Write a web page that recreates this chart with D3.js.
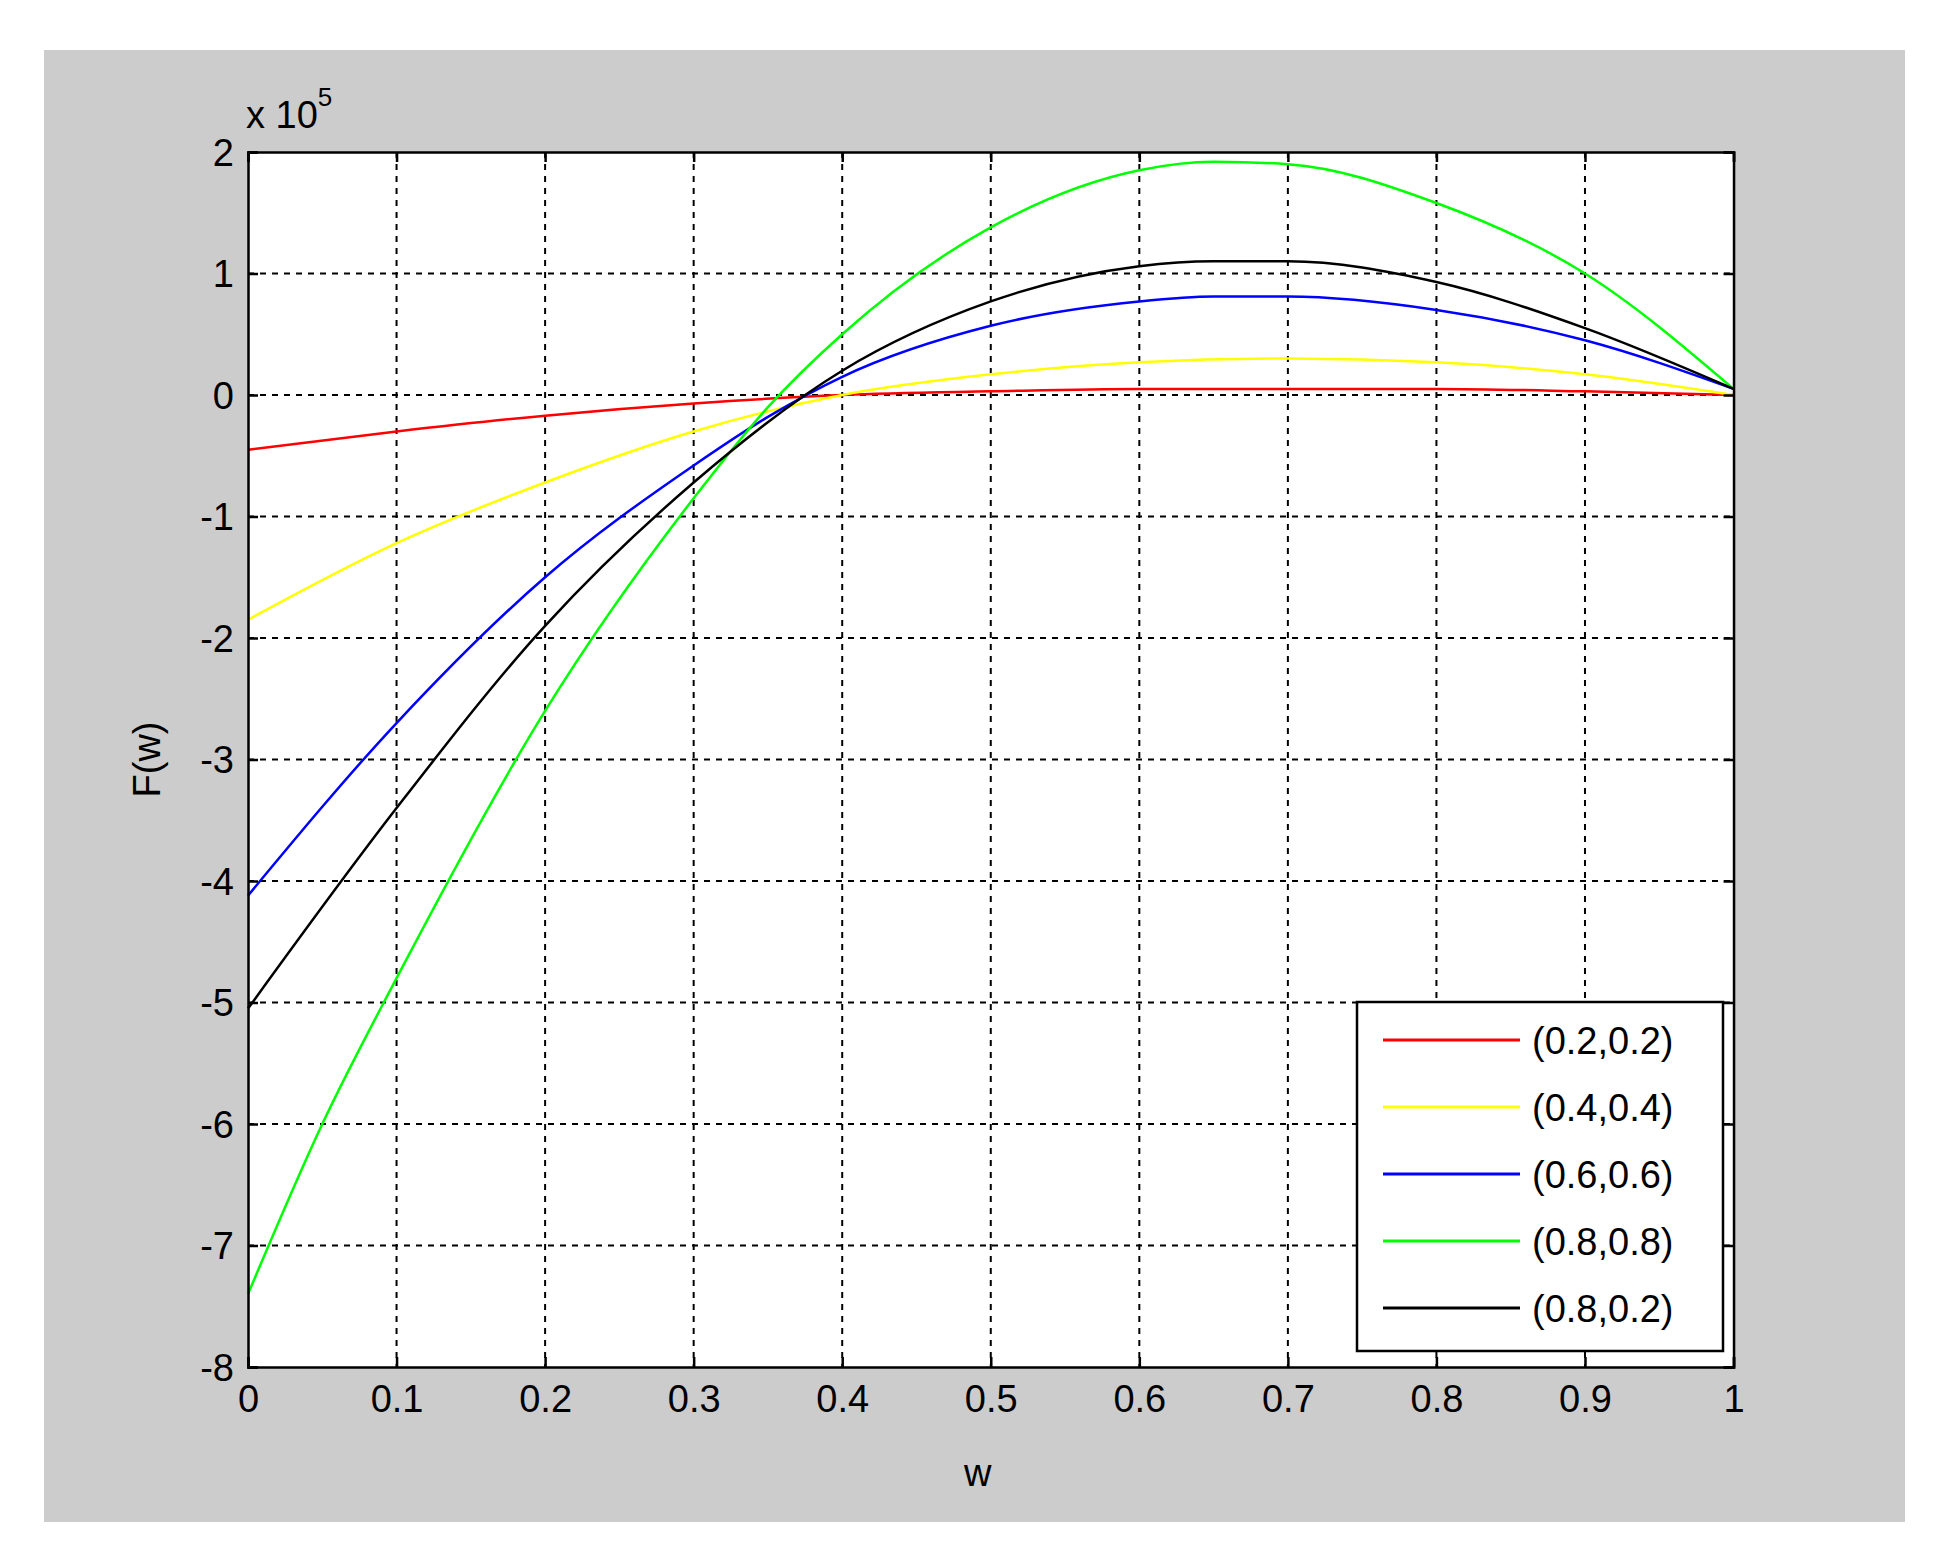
<!DOCTYPE html><html><head><meta charset="utf-8"><script src="https://cdn.jsdelivr.net/npm/d3@7"></script>
<style>body{margin:0;background:#fff}text{font-family:"Liberation Sans",Arial,sans-serif}</style></head><body><script>
const xTicks=[0,0.1,0.2,0.3,0.4,0.5,0.6,0.7,0.8,0.9,1];
const yTicks=[-8,-7,-6,-5,-4,-3,-2,-1,0,1,2];
const wRed=[0,0.1,0.2,0.3,0.4,0.5,0.6,0.7,0.8,0.9,1];
const red=[-0.45,-0.3,-0.17,-0.07,0,0.03,0.05,0.05,0.05,0.03,0];
const wYellow=[0,0.1,0.2,0.3,0.4,0.5,0.6,0.7,0.8,0.9,1];
const yellow=[-1.85,-1.22,-0.72,-0.3,0,0.17,0.27,0.3,0.27,0.17,0];
const wBlue=[0,0.1,0.2,0.3,0.35,0.4,0.5,0.6,0.65,0.7,0.8,0.9,1];
const blue=[-4.12,-2.7,-1.5,-0.58,-0.18,0.15,0.57,0.77,0.81,0.81,0.7,0.45,0.05];
const wGreen=[0,0.05,0.1,0.2,0.3,0.35,0.4,0.5,0.6,0.65,0.7,0.8,0.9,1];
const green=[-7.4,-6,-4.8,-2.6,-0.85,-0.1,0.5,1.38,1.85,1.92,1.9,1.58,1.0,0.05];
const wBlack=[0,0.1,0.2,0.3,0.4,0.5,0.6,0.65,0.7,0.8,0.9,1];
const black=[-5.05,-3.4,-1.9,-0.72,0.2,0.77,1.06,1.1,1.1,0.93,0.55,0.05];
const names=["(0.2,0.2)","(0.4,0.4)","(0.6,0.6)","(0.8,0.8)","(0.8,0.2)"];
const colors=["#ff0000","#ffff00","#0000ff","#00ff00","#000000"];
const series=[[wRed,red],[wYellow,yellow],[wBlue,blue],[wGreen,green],[wBlack,black]];
const W=1946,H=1566;
const svg=d3.select("body").append("svg").attr("width",W).attr("height",H);
svg.append("rect").attr("x",44).attr("y",50).attr("width",1861).attr("height",1472).attr("fill","#cccccc");
const L=248,R=1744*0.994,T=152,B=1367;
const x=d3.scaleLinear().domain([0,1]).range([L,R]);
const y=d3.scaleLinear().domain([-8,2]).range([B,T]);
svg.append("rect").attr("x",L).attr("y",T).attr("width",R-L).attr("height",B-T).attr("fill","#fff");
const g=svg.append("g");
g.selectAll(".gx").data(xTicks.slice(1,-1)).enter().append("line").attr("x1",d=>x(d)).attr("x2",d=>x(d)).attr("y1",T).attr("y2",B).attr("stroke","#000").attr("stroke-width",2).attr("stroke-dasharray","6,6");
g.selectAll(".gy").data(yTicks.slice(1,-1)).enter().append("line").attr("y1",d=>y(d)).attr("y2",d=>y(d)).attr("x1",L).attr("x2",R).attr("stroke","#000").attr("stroke-width",2).attr("stroke-dasharray","6,6");
const line=d3.line().curve(d3.curveMonotoneX);
series.forEach((s,i)=>{
 svg.append("path").attr("d",line(s[0].map((w,j)=>[x(w),y(s[1][j])]))).attr("fill","none").attr("stroke",colors[i]).attr("stroke-width",2.5);
});
const ax=svg.append("g").attr("transform",`translate(0,${B})`).call(d3.axisBottom(x).tickValues(xTicks).tickFormat(d=>String(d)).tickSize(-10).tickPadding(18));
const axt=svg.append("g").attr("transform",`translate(0,${T})`).call(d3.axisTop(x).tickValues(xTicks).tickFormat("").tickSize(-10));
const ay=svg.append("g").attr("transform",`translate(${L},0)`).call(d3.axisLeft(y).tickValues(yTicks).tickFormat(d=>String(d)).tickSize(-10).tickPadding(14));
const ayr=svg.append("g").attr("transform",`translate(${R},0)`).call(d3.axisRight(y).tickValues(yTicks).tickFormat("").tickSize(-10));
[ax,axt,ay,ayr].forEach(a=>{a.selectAll("path,line").attr("stroke","#000").attr("stroke-width",2.5);a.selectAll("text").attr("font-size",38).attr("fill","#000");});
ay.selectAll("text").attr("dy","0.35em");
svg.append("text").attr("x",(L+R)/2-13).attr("y",1486).attr("text-anchor","middle").attr("font-size",38).text("w");
svg.append("text").attr("transform",`translate(160,${(T+B)/2}) rotate(-90)`).attr("text-anchor","middle").attr("font-size",38).text("F(w)");
const t=svg.append("text").attr("x",246).attr("y",128).attr("font-size",38).text("x 10");
t.append("tspan").attr("dy",-22).attr("font-size",26).text("5");
const lg=svg.append("g");
lg.append("rect").attr("x",1357).attr("y",1002).attr("width",366).attr("height",349).attr("fill","#fff").attr("stroke","#000").attr("stroke-width",2.5);
names.forEach((n,i)=>{const yy=1040+i*67;
 lg.append("line").attr("x1",1383).attr("x2",1520).attr("y1",yy).attr("y2",yy).attr("stroke",colors[i]).attr("stroke-width",3);
 lg.append("text").attr("x",1532).attr("y",yy+14).attr("font-size",38).text(n);});
</script></body></html>
